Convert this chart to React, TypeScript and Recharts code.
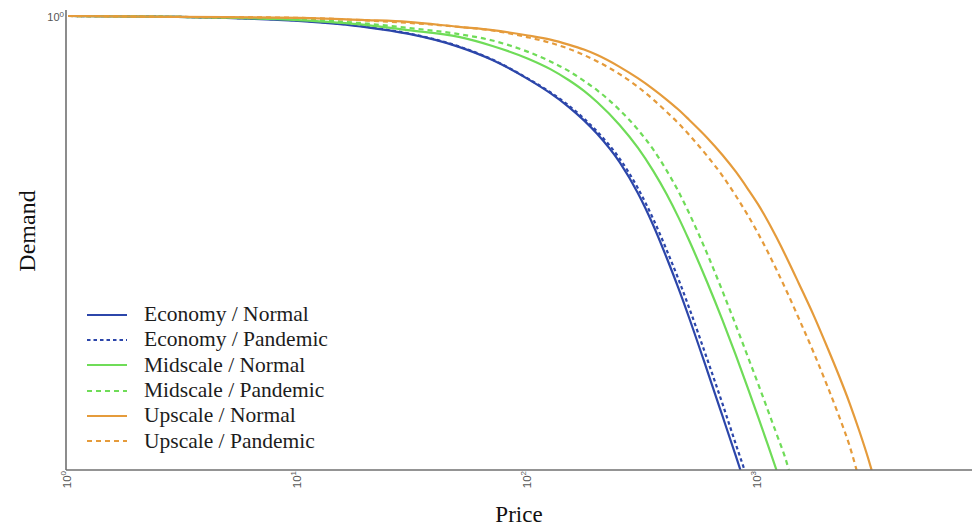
import React from 'react';
import { LineChart, Line, XAxis, YAxis, Label } from 'recharts';

const W = 972;
const H = 527;

const BLUE = '#2c46aa';
const GREEN = '#6fdc58';
const ORANGE = '#e59b3b';
const AXIS = '#707070';

// Price points (log scale) and normalised demand for each segment / period
const ECON_NORMAL_PRICE = [1, 3, 10, 20, 30, 50, 70, 100, 125, 150, 175, 200, 250, 300, 350, 400, 450, 500, 600, 700, 800, 838];
const ECON_NORMAL_DEMAND = [1.0, 0.998, 0.989, 0.975, 0.961, 0.932, 0.903, 0.861, 0.83, 0.8, 0.77, 0.74, 0.678, 0.61, 0.539, 0.468, 0.401, 0.337, 0.22, 0.119, 0.031, 0];

const ECON_PANDEMIC_PRICE = [1, 3, 10, 20, 30, 50, 70, 100, 125, 150, 175, 200, 250, 300, 350, 400, 450, 500, 600, 700, 800, 873];
const ECON_PANDEMIC_DEMAND = [1.0, 0.998, 0.99, 0.976, 0.962, 0.933, 0.904, 0.862, 0.832, 0.803, 0.774, 0.745, 0.686, 0.621, 0.553, 0.485, 0.421, 0.359, 0.245, 0.146, 0.057, 0];

const MID_NORMAL_PRICE = [1, 3, 10, 20, 30, 50, 70, 100, 125, 150, 175, 200, 250, 300, 350, 400, 450, 500, 600, 700, 800, 900, 1000, 1100, 1202];
const MID_NORMAL_DEMAND = [1.0, 0.998, 0.991, 0.98, 0.969, 0.954, 0.934, 0.906, 0.883, 0.859, 0.835, 0.81, 0.76, 0.71, 0.659, 0.608, 0.557, 0.507, 0.414, 0.33, 0.253, 0.182, 0.117, 0.057, 0];

const MID_PANDEMIC_PRICE = [1, 3, 10, 20, 30, 50, 70, 100, 125, 150, 175, 200, 250, 300, 350, 400, 450, 500, 600, 700, 800, 900, 1000, 1100, 1200, 1350, 1360];
const MID_PANDEMIC_DEMAND = [1.0, 0.998, 0.993, 0.983, 0.974, 0.96, 0.946, 0.921, 0.9, 0.879, 0.857, 0.836, 0.793, 0.75, 0.706, 0.66, 0.614, 0.567, 0.477, 0.394, 0.319, 0.251, 0.19, 0.133, 0.081, 0.006, 0];

const UP_NORMAL_PRICE = [1, 3, 10, 20, 30, 50, 70, 100, 125, 150, 175, 200, 250, 300, 350, 400, 450, 500, 600, 700, 800, 900, 1000, 1100, 1200, 1350, 1500, 1750, 2000, 2250, 2500, 2750, 3000, 3115];
const UP_NORMAL_DEMAND = [1.0, 0.998, 0.996, 0.991, 0.987, 0.976, 0.969, 0.957, 0.948, 0.937, 0.926, 0.914, 0.888, 0.863, 0.839, 0.816, 0.794, 0.772, 0.732, 0.694, 0.657, 0.62, 0.585, 0.549, 0.513, 0.461, 0.412, 0.339, 0.27, 0.207, 0.147, 0.087, 0.028, 0];

const UP_PANDEMIC_PRICE = [1, 3, 10, 20, 30, 50, 70, 100, 125, 150, 175, 200, 250, 300, 350, 400, 450, 500, 600, 700, 800, 900, 1000, 1100, 1200, 1350, 1500, 1750, 2000, 2250, 2500, 2680];
const UP_PANDEMIC_DEMAND = [1.0, 0.998, 0.996, 0.99, 0.985, 0.976, 0.968, 0.953, 0.941, 0.928, 0.914, 0.9, 0.872, 0.844, 0.816, 0.789, 0.764, 0.739, 0.692, 0.648, 0.604, 0.562, 0.521, 0.481, 0.442, 0.387, 0.335, 0.257, 0.185, 0.118, 0.053, 0];

const X_TICKS = [1, 10, 100, 1000];
const X_TICK_EXP = ['0', '1', '2', '3'];
const Y_TICKS = [1];
const X_DOMAIN = [0.98, 8510];
const Y_DOMAIN = [0, 1.0132];

const SERIES = [
  { name: 'Economy / Normal', price: ECON_NORMAL_PRICE, demand: ECON_NORMAL_DEMAND, color: BLUE, dash: '' },
  { name: 'Economy / Pandemic', price: ECON_PANDEMIC_PRICE, demand: ECON_PANDEMIC_DEMAND, color: BLUE, dash: '3.5 3' },
  { name: 'Midscale / Normal', price: MID_NORMAL_PRICE, demand: MID_NORMAL_DEMAND, color: GREEN, dash: '' },
  { name: 'Midscale / Pandemic', price: MID_PANDEMIC_PRICE, demand: MID_PANDEMIC_DEMAND, color: GREEN, dash: '5 4' },
  { name: 'Upscale / Normal', price: UP_NORMAL_PRICE, demand: UP_NORMAL_DEMAND, color: ORANGE, dash: '' },
  { name: 'Upscale / Pandemic', price: UP_PANDEMIC_PRICE, demand: UP_PANDEMIC_DEMAND, color: ORANGE, dash: '5 4' },
];

const XTick = (props: any) => {
  const { x, y, payload } = props;
  const idx = X_TICKS.indexOf(payload.value);
  const exp = idx >= 0 ? X_TICK_EXP[idx] : '';
  return (
    <text
      x={x}
      y={y}
      transform={`rotate(-90, ${x}, ${y})`}
      textAnchor="end"
      dominantBaseline="middle"
      fontFamily="Liberation Sans, Arial, sans-serif"
      fontSize={11.5}
      fill="#555"
    >
      10
      <tspan dy={-4} fontSize={8}>{exp}</tspan>
    </text>
  );
};

const YTick = (props: any) => {
  const { x, y } = props;
  return (
    <text
      x={x}
      y={y}
      dy={5}
      textAnchor="end"
      fontFamily="Liberation Sans, Arial, sans-serif"
      fontSize={11}
      fill="#555"
    >
      10
      <tspan dy={-4} fontSize={8}>0</tspan>
    </text>
  );
};

const XTitle = (props: any) => {
  const vb = props.viewBox;
  return (
    <text
      x={vb.x + vb.width / 2}
      y={vb.y + 52}
      textAnchor="middle"
      fontFamily="Liberation Serif, 'Times New Roman', serif"
      fontSize={23}
      fill="#111"
    >
      Price
    </text>
  );
};

const YTitle = (props: any) => {
  const vb = props.viewBox;
  const cx = vb.x + 35;
  const cy = vb.y + vb.height / 2 - 9;
  return (
    <text
      x={cx}
      y={cy}
      transform={`rotate(-90, ${cx}, ${cy})`}
      textAnchor="middle"
      fontFamily="Liberation Serif, 'Times New Roman', serif"
      fontSize={24}
      fill="#111"
    >
      Demand
    </text>
  );
};

// Legend box laid over the lower-left corner of the plot
const LegendBox = () => (
  <div
    style={{
      position: 'absolute',
      left: 87,
      top: 302,
      fontFamily: "'Liberation Serif', 'Times New Roman', serif",
      fontSize: 21.5,
      color: '#1c1c1c',
      pointerEvents: 'none',
    }}
  >
    {SERIES.map((s) => (
      <div key={s.name} style={{ display: 'flex', alignItems: 'center', height: 25.3, whiteSpace: 'nowrap' }}>
        <svg width={40} height={6} style={{ marginRight: 17, flex: 'none' }}>
          <line x1={0} y1={3} x2={40} y2={3} stroke={s.color} strokeWidth={2.2} strokeDasharray={s.dash || undefined} />
        </svg>
        <span>{s.name}</span>
      </div>
    ))}
  </div>
);

export default function App() {
  return (
    <div style={{ position: 'absolute', left: 0, top: 0, width: W, height: H, background: '#fff' }}>
      <LineChart width={W} height={H} margin={{ top: 10, right: 0, bottom: 0, left: 0 }}>
        <XAxis
          dataKey="price"
          type="number"
          scale="log"
          domain={X_DOMAIN}
          allowDataOverflow
          ticks={X_TICKS}
          height={57}
          tickSize={0}
          tickMargin={1}
          tick={XTick}
          axisLine={{ stroke: AXIS, strokeWidth: 1.6 }}
          tickLine={false}
          label={<Label content={XTitle} />}
        />
        <XAxis
          xAxisId="top"
          orientation="top"
          dataKey="price"
          type="number"
          scale="log"
          domain={X_DOMAIN}
          allowDataOverflow
          height={0}
          tick={false}
          tickLine={false}
          axisLine={{ stroke: AXIS, strokeWidth: 1.6 }}
        />
        <YAxis
          type="number"
          domain={Y_DOMAIN}
          allowDataOverflow
          ticks={Y_TICKS}
          width={66}
          tickSize={0}
          tickMargin={2}
          tick={YTick}
          axisLine={{ stroke: AXIS, strokeWidth: 1.6 }}
          tickLine={false}
          label={<Label content={YTitle} />}
        />
        {SERIES.map((s) => (
          <Line
            key={s.name}
            name={s.name}
            data={s.price.map((p, i) => ({ price: p, demand: s.demand[i] }))}
            dataKey="demand"
            type="monotone"
            stroke={s.color}
            strokeWidth={2.2}
            strokeDasharray={s.dash || undefined}
            dot={false}
            activeDot={false}
            isAnimationActive={false}
          />
        ))}
      </LineChart>
      <LegendBox />
    </div>
  );
}
